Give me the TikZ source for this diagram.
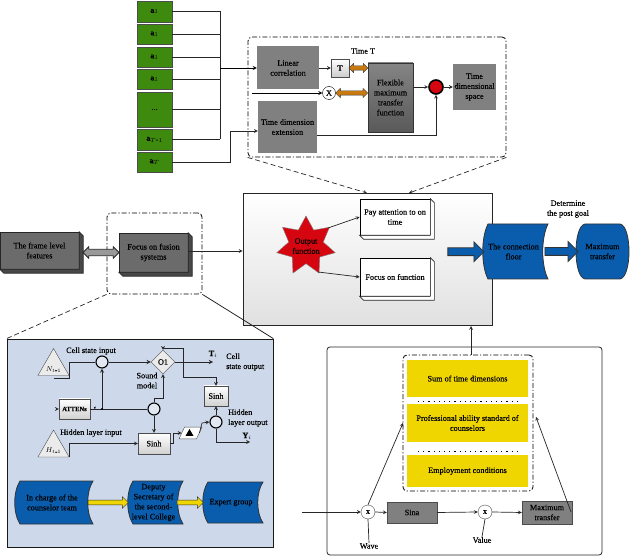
\documentclass[tikz,border=0pt]{standalone}
\usepackage{fontspec}
\setmainfont[FakeBold=0.2]{Liberation Serif}
\usetikzlibrary{shapes,shapes.geometric,shapes.arrows,calc}
\definecolor{leafgreen}{RGB}{62,138,14}
\definecolor{panelblue}{RGB}{205,217,234}
\definecolor{deepblue}{RGB}{10,92,172}
\definecolor{signred}{RGB}{214,6,16}
\definecolor{boxgrey}{RGB}{128,128,128}
\definecolor{stepyellow}{RGB}{240,214,0}
\definecolor{linkorange}{RGB}{200,122,16}
\newcommand{\flowscroll}[6]{%
  \draw[black!80,thick,fill=deepblue] (#2+5,#4) -- (#3,#4)
    .. controls (#3-7,{#4+(#5-#4)*.25}) and (#3-7,{#4+(#5-#4)*.75}) .. (#3,#5)
    -- (#2+5,#5)
    .. controls (#2-2,{#4+(#5-#4)*.75}) and (#2-2,{#4+(#5-#4)*.25}) .. (#2+5,#4) -- cycle;
  \node[scrollnode,minimum width=#3-#2,minimum height=#5-#4] (#1) at ({(#2+#3)/2},{(#4+#5)/2}) {#6};}
\newcommand{\sidefaces}[2]{%
  \draw[black!85,line width=.7pt,fill=#2] (#1.north east) -- ($(#1.north east)+(4,4)$) -- ($(#1.south east)+(4,4)$)
    -- ($(#1.south west)+(4,4)$) -- (#1.south west) -- (#1.south east) -- cycle;}
\begin{document}
\begin{tikzpicture}[x=1pt,y=-1pt,>=stealth,
    every node/.style={font=\fontsize{8.2}{10}\selectfont,align=center,inner sep=0pt},
    thinlink/.style={draw=black!85,line width=.7pt},
    greenbox/.style={draw=black!70,thick,fill=leafgreen,minimum width=35,text=black},
    greybox/.style={fill=boxgrey,minimum width=60},
    shadebox/.style={draw=black!80,top color=black!48,bottom color=black!65},
    flatbox/.style={draw=black!85,fill=black!58},
    sidebox/.style={draw=black,line width=.7pt,fill=white},
    lightbox/.style={draw=black!70,top color=white,bottom color=black!18},
    yellowbox/.style={fill=stepyellow,minimum width=121},
    scrollnode/.style={text=black,xshift=-2},
    junction/.style={circle,draw=black,line width=1.1pt,fill=panelblue!60,minimum size=12},
    multnode/.style={circle,draw=black!70,fill=white,minimum size=14},
    blockarrow/.style={single arrow,draw=black!80,thick,fill=deepblue,inner xsep=0pt,inner ysep=3.5pt,single arrow head extend=6},
    yellowarrow/.style={single arrow,draw=black!80,fill=stepyellow,inner xsep=0pt,inner ysep=2.2pt,single arrow head extend=3.5},
    orangelink/.style={double arrow,draw=black!80,fill=linkorange,inner xsep=0pt,inner ysep=2pt,double arrow head extend=2.5},
    greylink/.style={double arrow,draw=black!85,thick,fill=black!40,inner xsep=0pt,inner ysep=2.8pt,double arrow head extend=2.5},
    dashbox/.style={draw=black,line width=.8pt,dash pattern=on 5pt off 2pt on 1.2pt off 2pt,rounded corners=4pt},
    longdash/.style={draw=black!85,line width=.7pt,dash pattern=on 5pt off 3pt},
    dotrow/.style={line width=1pt,dash pattern=on 1.2pt off 4pt},
    trilabel/.style={font=\fontsize{7}{8}\selectfont,yshift=-3pt},
    inputtri/.style={regular polygon,regular polygon sides=3,draw=black!70,fill=black!8,minimum size=36}]
  \useasboundingbox (0,0) rectangle (630,556);

  % background frames
  \node[draw=black!85,thick,top color=white,bottom color=black!12,minimum width=249,minimum height=132] (mainbox) at (367.5,259) {};
  \node[draw=black!90,thick,fill=panelblue,minimum width=266,minimum height=208] (panel) at (140,443) {};
  \node[draw=black!85,line width=.8pt,rounded corners=3pt,minimum width=275,minimum height=208] (lowframe) at (464.5,451) {};
  \node[dashbox,minimum width=258,minimum height=120] (timeframe) at (377,97) {};
  \node[dashbox,minimum width=95,minimum height=81] (focusframe) at (154.5,253.5) {};
  \node[dashbox,minimum width=130,minimum height=136] (stepframe) at (468,423) {};

  % input blocks
  \node[greenbox,minimum height=21] (a_1) at (154.5,11.5) {\textbf{a}$_1$};
  \node[greenbox,minimum height=20] (a_2) at (154.5,34) {\textbf{a}$_1$};
  \node[greenbox,minimum height=20] (a_3) at (154.5,57) {\textbf{a}$_1$};
  \node[greenbox,minimum height=20] (a_4) at (154.5,79) {\textbf{a}$_1$};
  \node[greenbox,minimum height=35] (a_5) at (154.5,109.5) {...};
  \node[greenbox,minimum height=21] (a_6) at (154.5,139.5) {\textbf{a}$_{T\mbox{-}1}$};
  \node[greenbox,minimum height=20] (a_7) at (154.5,162) {\textbf{a}$_T$};
  \coordinate (busin) at (220,68);
  \foreach \n in {1,...,6}
    \draw[thinlink] (a_\n.east) -- (a_\n.east -| busin);
  \draw[thinlink] (a_1.east -| busin) -- (a_6.east -| busin);

  % time block
  \node[greybox,minimum width=62,minimum height=43] (linear) at (288,68) {Linear\\correlation};
  \node[greybox,minimum width=59,minimum height=52] (extend) at (287.5,127) {Time dimension\\extension};
  \node[draw=black!70,top color=white,bottom color=black!20,minimum size=18,font=\fontsize{8}{10}\selectfont\bfseries] (tbox) at (340,68) {T};
  \node[shadebox,thick,minimum width=45,minimum height=69] (flexmax) at (390.5,97.5) {Flexible\\maximum\\transfer\\function};
  \node[multnode,draw=black,minimum size=13] (xnode) at (329,93) {X};
  \node[circle,draw=black,line width=1.6pt,fill=signred,minimum size=14] (rednode) at (436,87) {};
  \node[greybox,minimum width=43,minimum height=46] (timespace) at (474.5,87) {Time\\dimensional\\space};
  \node (timet) at (363,51) {Time T};
  \coordinate (xin) at (252,93);
  \draw[->,black,thick] (busin) -- (linear.west);
  \draw[->,thinlink] (a_7.east) -| (230,131) -- (extend.west |- 0,131);
  \draw[->,thinlink] (linear.east) -- (tbox.west);
  \draw[->,black,thick] (xin) -- (xnode.west);
  \draw[->,thinlink] (flexmax.east |- rednode) -- (rednode.west);
  \draw[->,thinlink] (rednode.east) -- (timespace.west);
  \draw[->,thinlink] (extend.east |- 0,135) -| (rednode.south);
  \path (tbox.east) -- node[orangelink,minimum height=19] (orangea) {} (tbox.east -| flexmax.west);
  \path (xnode.east) -- node[orangelink,minimum height=32] (orangeb) {} (xnode.east -| flexmax.west);
  \draw[->,longdash] (timeframe.south west) -- (367,193);
  \draw[->,longdash] (timeframe.south east) -- (409,193);

  % left blocks
  \node[flatbox,minimum width=79,minimum height=37] (frame) at (39.5,250.5) {The frame level\\features};
  \sidefaces{frame}{black!72}
  \node[flatbox,minimum width=69,minimum height=39] (fusion) at (153.5,252.5) {Focus on fusion\\systems};
  \sidefaces{fusion}{black!72}
  \path (frame.east) ++(4,2) -- node[greylink,minimum height=36] (framelink) {} (fusion.west);
  \draw[->,thinlink] (fusion.east |- 0,251) -- (mainbox.west |- 0,251);
  \draw[longdash] (focusframe.south west) -- (panel.north west);
  \draw[black!85,line width=.8pt] (focusframe.south east) -- (panel.north east);

  % output function
  \node[star,star points=7,star point ratio=1.7,draw=black!50,fill=signred,minimum size=60,
    label={[align=center,font=\fontsize{8.2}{10}\selectfont]center:Output\\function}] (outfun) at (306,246) {};
  \node[sidebox,minimum width=70,minimum height=36] (payatt) at (395,217) {Pay attention to on\\time};
  \sidefaces{payatt}{white}
  \node[sidebox,minimum width=70,minimum height=38] (focusfun) at (395,277) {Focus on function};
  \sidefaces{focusfun}{white}
  \draw[->,thinlink] (328,228) -- (payatt.west);
  \draw[->,thinlink] (318,272) -- (focusfun.west);

  % connection floor
  \flowscroll{floor}{483}{548}{224}{279}{The connection\\floor}
  \draw[black!80,thick,fill=deepblue] (585,224) -- (620,224) .. controls (632,226) and (632,277) .. (620,279)
    -- (585,279) .. controls (573,277) and (573,226) .. (585,224) -- cycle;
  \node[minimum width=53,minimum height=55] (maxout) at (602.5,251.5) {Maximum\\transfer};
  \coordinate (floorin) at (447,252);
  \path (floorin) -- node[blockarrow,minimum height=36] (arrowin) {} (floor.west);
  \path (floor.east) ++(-3,0) -- node[blockarrow,minimum height=33] (arrowout) {} (maxout.west);
  \node (postgoal) at (568,209) {Determine\\the post goal};

  % panel
  \node[inputtri,label={[trilabel]center:$N_{t\mbox{-}1}$}] (ntri) at (53.5,366.5) {};
  \node[inputtri,label={[trilabel]center:$H_{t\mbox{-}1}$}] (htri) at (53.5,448) {};
  \node (cellin) at (91,351) {Cell state input};
  \node (hidin) at (91,433) {Hidden layer input};
  \node[junction] (jtop) at (102,362) {};
  \node[diamond,aspect=1,draw=black!70,fill=black!8,minimum size=24] (onode) at (163,362) {O1};
  \node (sound) at (147,380.5) {Sound\\model};
  \node (tout) at (213,354) {\textbf{T}$_i$};
  \coordinate (tend) at (213,362);
  \node[anchor=west,align=left] (cellout) at (226,362) {Cell\\state output};
  \node[lightbox,minimum width=24,minimum height=20] (sinhtop) at (216,396) {Sinh};
  \node[junction] (jright) at (216,422) {};
  \node[anchor=west,align=left] (hidout) at (228,418) {Hidden\\layer output};
  \node[junction] (jmid) at (154,409) {};
  \node[lightbox,minimum width=31,minimum height=20,font=\fontsize{6.5}{8}\selectfont\bfseries] (attens) at (74.5,409) {ATTENs};
  \coordinate (attin) at (56,409);
  \coordinate (dotnode) at (102,409);
  \node[font=\fontsize{5}{6}\selectfont] (cmark) at (95,408) {c};
  \node[lightbox,minimum width=32,minimum height=21] (sinhlow) at (154,443.5) {Sinh};
  \node[trapezium,trapezium left angle=65,trapezium right angle=115,inner sep=1pt,draw=black!70,fill=white,minimum width=23,minimum height=10] (para) at (190.5,433) {};
  \node[regular polygon,regular polygon sides=3,fill=black,minimum size=9] (paramark) at (189.5,433.5) {};
  \node (yout) at (247,436) {\textbf{Y}$_i$};
  \coordinate (yend) at (250,442);
  \draw[thinlink,line width=.9pt] (ntri.south) ++(0,3) -- ++(16,0) |- (jtop.west);
  \draw[->,thinlink,line width=.9pt] (jtop.east) -- (onode.west);
  \draw[->,thinlink,line width=.9pt] (onode.east) -- (tend);
  \draw[->,thinlink] (183,362) |- (163,348) -- (onode.north);
  \draw[->,thinlink] (183,362) |- (216,377) -- (sinhtop.north);
  \draw[->,thinlink,line width=.9pt] (dotnode) -- (jtop.south);
  \draw[thinlink] (jmid.west) -- (attens.east);
  \draw[->,thinlink] (attin) -- (attens.west);
  \fill (dotnode) circle (1.1);
  \draw[->,thinlink] (jmid.north) |- (163,398) -- (onode.south);
  \draw[->,thinlink] (jmid.south) -- (sinhlow.north);
  \draw[->,thinlink] (htri.corner 3) |- (sinhlow.west);
  \draw[->,thinlink] (sinhlow.east) -- (173,443.5) |- (para.west);
  \draw[->,thinlink] (para.east) -- (202,423) -- (jright.west);
  \draw[->,thinlink] (jright.north) -- (sinhtop.south);
  \draw[->,thinlink] (jright.south) |- (yend);

  % scrolls
  \flowscroll{charge}{15}{93}{481}{524}{In charge of the\\counselor team}
  \flowscroll{deputy}{128}{183}{481}{524}{Deputy\\Secretary of\\the second-\\level College}
  \flowscroll{expert}{203}{263}{482}{523}{Expert group}
  \path (charge.east) ++(-3,0) -- node[yellowarrow,minimum height=40] (yellowa) {} (deputy.west);
  \path (deputy.east) ++(-4,0) -- node[yellowarrow,minimum height=26] (yellowb) {} (expert.west);

  % lower frame
  \node[yellowbox,minimum height=37] (sumdim) at (467.5,378.5) {Sum of time dimensions};
  \node[yellowbox,minimum height=38] (profab) at (467.5,423) {Professional ability standard of\\counselors};
  \node[yellowbox,minimum height=32] (employ) at (467.5,471) {Employment conditions};
  \draw[dotrow] (418,401.5) -- (518,401.5);
  \draw[dotrow] (418,451) -- (518,451);
  \coordinate (lowin) at (302,512);
  \node[multnode] (mula) at (368,512) {x};
  \node[draw=black!70,fill=boxgrey,minimum width=50,minimum height=21] (sina) at (412,512.5) {Sina};
  \node[multnode] (mulb) at (485,512) {x};
  \node[draw=black!70,fill=boxgrey,minimum width=50,minimum height=23] (lowmax) at (547,512.5) {Maximum\\transfer};
  \node (wave) at (369,546) {Wave};
  \node (value) at (482,540) {Value};
  \draw[->,thinlink] (lowin) -- (mula.west);
  \draw[->,thinlink] (mula.east) -- (sina.west);
  \draw[->,thinlink] (sina.east) -- (mulb.west);
  \draw[->,thinlink] (mulb.east) -- (lowmax.west);
  \draw[thinlink] (mula.south) -- (wave.north);
  \draw[thinlink] (mulb.south) -- (value.north);
  \draw[->,thinlink] (mula.north) -- (403,423);
  \draw[->,thinlink] (571,512) -- (536,417);
  \draw[->,thinlink] (471,355) -- (471,326);
\end{tikzpicture}
\end{document}
